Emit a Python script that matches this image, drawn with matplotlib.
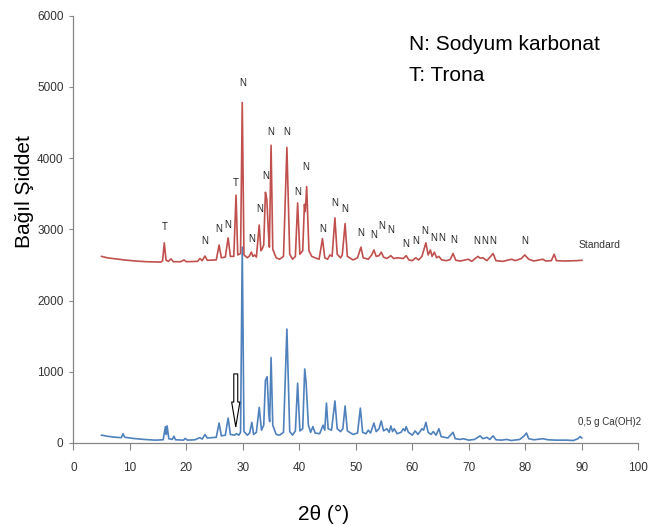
import matplotlib
matplotlib.use("Agg")
import matplotlib.pyplot as plt
from matplotlib.patches import FancyArrow

# Standard sample (red) - 2theta / counts
std_2theta = [5.0, 6.0, 7.5, 9.0, 11.0, 13.0, 15.5, 15.8, 16.1, 16.4, 16.8, 17.3, 17.7, 19.0, 19.6, 20.0,
              22.0, 22.4, 22.8, 23.3, 23.7, 25.3, 25.8, 26.2, 26.9, 27.4, 27.8, 28.4, 28.8, 29.1, 29.6, 29.9,
              30.2, 30.8, 31.2, 31.5, 31.8, 32.1, 32.4, 32.9, 33.2, 33.4, 33.7, 34.0, 34.25, 34.5, 34.7, 35.0,
              35.3, 35.9, 36.5, 37.2, 37.8, 38.3, 38.8, 39.3, 39.7, 40.1, 40.6, 40.9, 41.05, 41.3, 41.7, 42.2,
              42.8, 43.5, 44.1, 44.5, 45.0, 45.4, 45.8, 46.3, 46.7, 47.3, 47.6, 48.1, 48.5, 49.5, 50.3, 50.9,
              51.3, 52.2, 52.8, 53.2, 53.6, 54.1, 54.5, 54.9, 55.5, 56.2, 56.7, 57.4, 58.4, 58.9, 59.4, 60.0,
              60.6, 61.1, 61.7, 62.4, 62.8, 63.2, 63.5, 63.9, 64.3, 64.7, 65.2, 66.0, 66.7, 67.2, 67.7, 68.5,
              69.9, 70.5, 71.6, 72.0, 72.5, 73.2, 74.3, 74.8, 76.0, 77.6, 78.2, 79.3, 79.9, 80.6, 81.5, 83.1,
              83.6, 84.6, 85.1, 85.5, 87.0, 89.0, 90.0]
std_counts = [2620, 2600, 2585, 2570, 2555, 2545, 2540, 2560, 2810, 2570, 2550, 2585, 2545, 2545, 2570, 2545,
              2550, 2590, 2560, 2625, 2565, 2570, 2780, 2600, 2610, 2880, 2620, 2620, 3480, 2640, 2660, 4780,
              2640, 2600, 2630, 2680, 2620, 2640, 2610, 3060, 2700, 2720, 2780, 3520, 3420, 3000, 2750, 4180,
              2720, 2600, 2580, 2620, 4150, 2650, 2580, 2620, 3370, 2650, 2700, 3350, 3250, 3600, 2700, 2620,
              2600, 2580, 2870, 2600, 2580, 2640, 2620, 3160, 2650, 2600, 2640, 3080, 2620, 2570, 2600, 2750,
              2600, 2580, 2640, 2710, 2620, 2630, 2680, 2610, 2590, 2630, 2590, 2600, 2590, 2630, 2570, 2560,
              2600, 2570, 2620, 2810, 2640, 2710, 2620, 2680, 2600, 2620, 2570, 2560, 2575, 2660, 2565, 2555,
              2580, 2550, 2620, 2595, 2600, 2560, 2660, 2560, 2550, 2580, 2560, 2590, 2640, 2580, 2555, 2580,
              2555, 2560, 2650, 2560, 2555, 2560, 2565]

# 0,5 g Ca(OH)2 sample (blue)
ca_2theta = [5.0, 6.0, 7.5, 8.5, 8.8, 9.1, 10.5, 12.5, 14.5, 15.9, 16.3, 16.45, 16.6, 16.9, 17.5, 17.8,
             18.1, 19.5, 19.8, 20.2, 21.5, 22.4, 22.8, 23.3, 23.7, 25.3, 25.8, 26.2, 26.9, 27.4, 27.8, 28.5,
             28.9, 29.3, 29.6, 29.9, 30.2, 30.8, 31.2, 31.6, 31.9, 32.4, 32.9, 33.3, 33.7, 34.0, 34.3, 34.6,
             34.75, 35.0, 35.3, 35.9, 36.5, 37.2, 37.8, 38.3, 38.8, 39.3, 39.7, 40.1, 40.6, 40.95, 41.2, 41.6,
             42.0, 42.4, 42.8, 43.6, 44.2, 44.5, 44.8, 45.1, 45.7, 46.3, 46.7, 47.3, 47.7, 48.1, 48.5, 49.5,
             50.3, 50.8, 51.2, 51.8, 52.2, 52.6, 53.2, 53.6, 54.1, 54.5, 54.9, 55.5, 55.9, 56.2, 56.5, 56.8,
             57.3, 58.0, 58.4, 58.7, 58.9, 59.3, 60.0, 60.5, 61.0, 61.7, 62.0, 62.4, 62.8, 63.3, 63.7, 64.2,
             64.7, 65.1, 66.3, 67.2, 67.6, 68.5, 69.0, 70.0, 71.0, 72.0, 72.5, 73.2, 73.7, 74.3, 74.8, 75.8,
             76.7, 77.5, 79.0, 79.8, 80.2, 80.6, 81.5, 83.1, 84.0, 85.5, 87.3, 88.5, 89.3, 89.7, 90.0]
ca_counts = [110, 95, 80, 75, 130, 80, 65, 50, 40, 45, 230, 120, 240, 60, 50, 95,
             45, 40, 65, 40, 45, 75, 55, 120, 70, 80, 280, 100, 110, 350, 120, 110,
             130, 110, 150, 2750, 160, 110, 140, 290, 120, 150, 500, 180, 250, 880, 930, 400,
             300, 1200, 250, 120, 110, 150, 1600, 160, 110, 170, 840, 170, 200, 1040, 850, 250,
             150, 230, 140, 130, 250, 180, 560, 200, 180, 590, 200, 160, 200, 520, 170, 120,
             140, 490, 150, 130, 180, 140, 280, 160, 200, 310, 170, 200, 150, 240, 160, 200,
             130, 150, 200, 170, 230, 150, 110, 170, 120, 200, 180, 290, 150, 120, 160, 110,
             200, 90, 70, 150, 60, 50, 60, 40, 50, 100, 60, 80, 50, 100, 45, 40,
             50, 35, 50, 100, 140, 60, 45, 60, 45, 40, 40, 35, 60, 90, 70]

# peak markers (N = sodyum karbonat, T = trona)
peak_tags = ["T", "N", "N", "N", "T", "N", "N", "N", "N", "N", "N", "N", "N", "N", "N",
             "N", "N", "N", "N", "N", "N", "N", "N", "N", "N", "N", "N", "N", "N", "N"]
peak_x = [16.1, 23.3, 25.8, 27.4, 28.8, 29.9, 31.6, 32.9, 34.1, 35.0, 37.8, 39.7, 41.2, 44.1, 46.2,
          48.1, 50.8, 53.1, 54.6, 56.2, 58.9, 60.6, 62.1, 63.8, 65.2, 67.4, 71.4, 72.8, 74.3, 79.9]
peak_y = [3030, 2840, 3010, 3060, 3650, 5060, 2860, 3280, 3750, 4370, 4370, 3530, 3880, 3010, 3370,
          3280, 2950, 2920, 3040, 2990, 2800, 2830, 2970, 2880, 2880, 2850, 2840, 2840, 2840, 2840]

arial = ['Liberation Sans', 'DejaVu Sans']
grey = '#868686'

fig = plt.figure(figsize=(6.57, 5.25), dpi=100)
ax = fig.add_axes([0.1116, 0.1562, 0.86, 0.814])

ax.plot(ca_2theta, ca_counts, color='#4F81BD', lw=1.2)
ax.plot(std_2theta, std_counts, color='#C0504D', lw=1.2)

for t, x, y in zip(peak_tags, peak_x, peak_y):
    ax.text(x, y, t, ha='center', va='center', fontsize=7, family=arial, color='#222222')

ax.text(89.5, 2780, 'Standard', ha='left', va='center', fontsize=7.5, family=arial,
        color='#333333', clip_on=False)
ax.text(89.3, 295, '0,5 g Ca(OH)2', ha='left', va='center', fontsize=7, family=arial,
        color='#333333', clip_on=False)

# hollow arrow pointing at the trona position
ax.add_patch(FancyArrow(28.75, 970, 0, -745, width=0.7, head_width=1.45, head_length=350,
                        length_includes_head=True, facecolor='white', edgecolor='black', lw=0.8, zorder=5))

ax.set_xlim(0, 100)
ax.set_ylim(0, 6000)
ax.set_xticks(range(0, 101, 10))
ax.set_yticks(range(0, 6001, 1000))
for s in ['top', 'right']:
    ax.spines[s].set_visible(False)
for s in ['left', 'bottom']:
    ax.spines[s].set_color(grey)
    ax.spines[s].set_linewidth(0.9)
ax.tick_params(axis='x', colors=grey, length=5, width=0.8, pad=8.5, labelcolor='#333333', labelsize=8.5)
ax.tick_params(axis='y', colors=grey, length=3, width=0.8, pad=4, labelcolor='#333333', labelsize=8.5)
for lab in ax.get_xticklabels() + ax.get_yticklabels():
    lab.set_family(arial)

fig.text(24 / 657, 1 - 192 / 525, 'Bağıl Şiddet', rotation=90, ha='center', va='center',
         fontsize=15, family=arial)
fig.text(324 / 657, 1 - 520 / 525, '2θ (°)', ha='center', va='baseline', fontsize=15, family=arial)
fig.text(409 / 657, 1 - 50 / 525, 'N: Sodyum karbonat', ha='left', va='baseline', fontsize=15, family=arial)
fig.text(409 / 657, 1 - 81 / 525, 'T: Trona', ha='left', va='baseline', fontsize=15, family=arial)

fig.savefig('out.png', dpi=100)
